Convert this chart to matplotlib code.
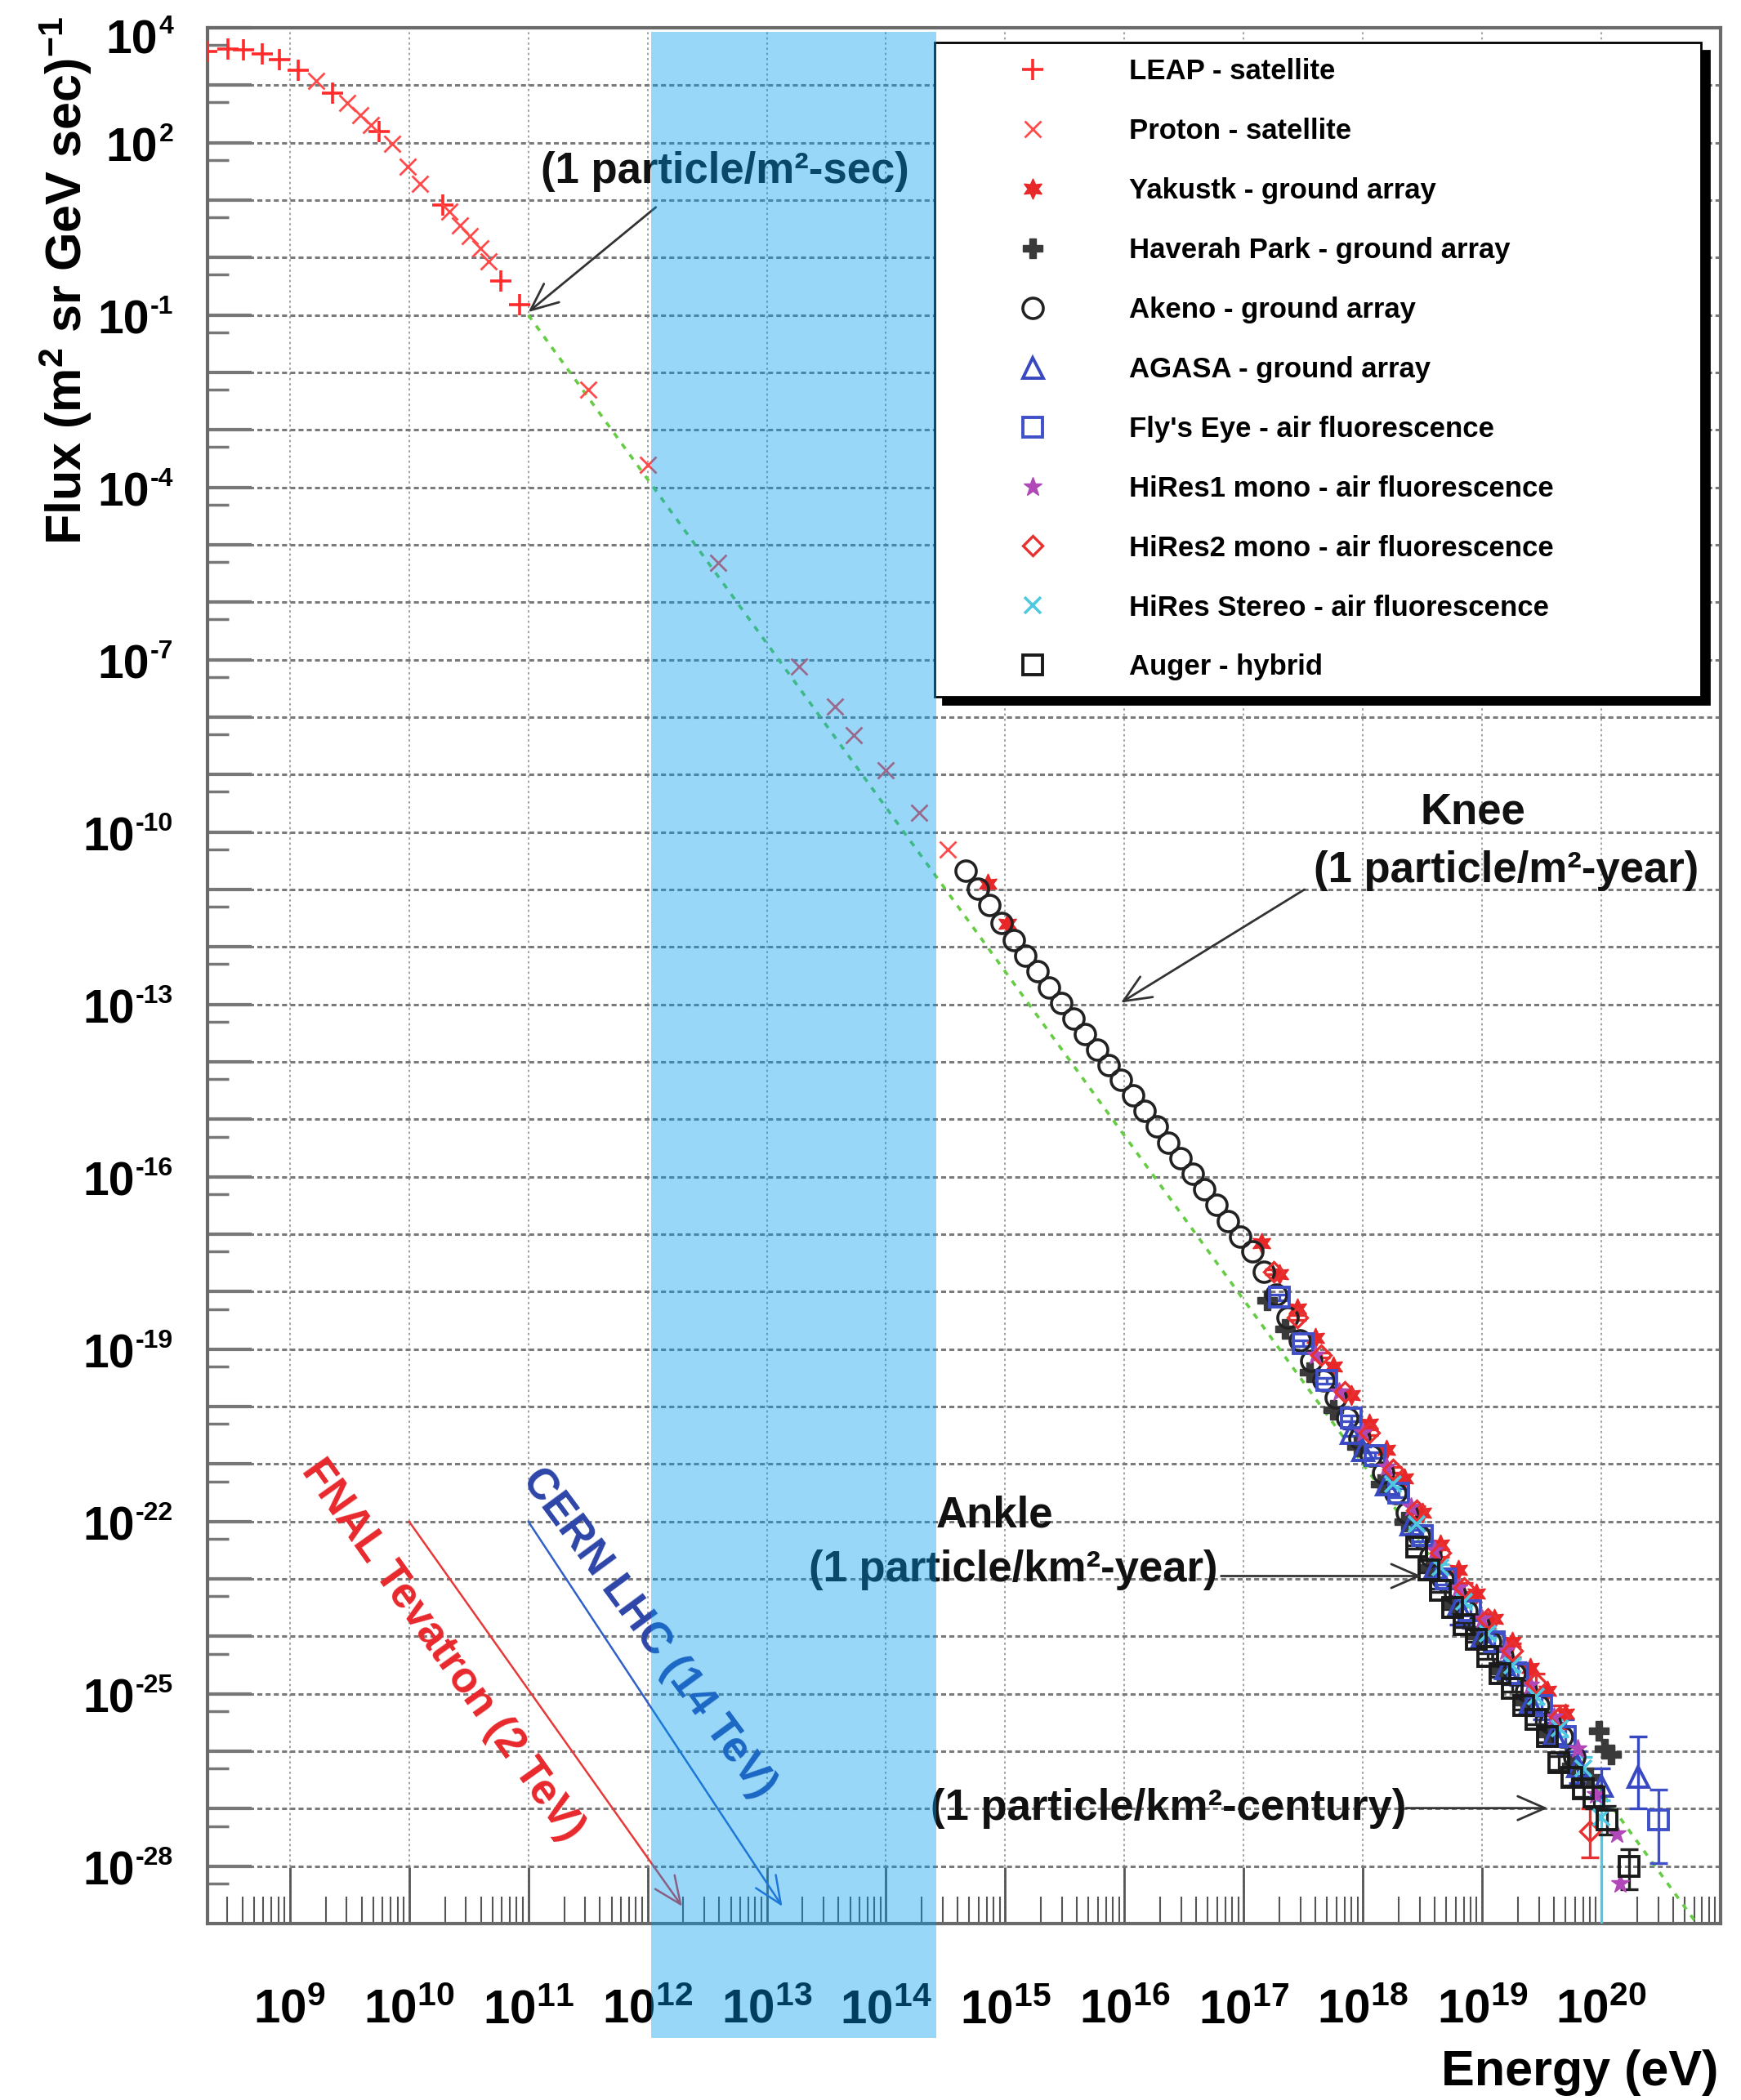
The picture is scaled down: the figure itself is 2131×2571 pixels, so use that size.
import matplotlib
matplotlib.use('Agg')  # headless
import matplotlib.pyplot as plt
import matplotlib.transforms as mtransforms
from matplotlib.patches import Rectangle
from matplotlib.ticker import FixedLocator, FuncFormatter, LogLocator, NullFormatter
import numpy as np

plt.rcParams['font.family'] = ['Liberation Sans', 'DejaVu Sans']
plt.rcParams['font.weight'] = 'bold'
plt.rcParams['mathtext.fontset'] = 'custom'
plt.rcParams['mathtext.rm'] = 'Liberation Sans:bold'
plt.rcParams['mathtext.it'] = 'Liberation Sans:bold'
plt.rcParams['mathtext.bf'] = 'Liberation Sans:bold'
plt.rcParams['mathtext.default'] = 'rm'

# all values are log10(E / eV) and log10(flux)
leap_logE = [8.30, 8.48, 8.61, 8.77, 8.91, 9.07, 9.36, 9.75, 10.28, 10.77, 10.93]
leap_logF = [3.59, 3.63, 3.62, 3.55, 3.45, 3.26, 2.86, 2.19, 0.91, -0.41, -0.82]

proton_logE = [9.22, 9.48, 9.59, 9.68, 9.86, 9.99, 10.09, 10.34, 10.43, 10.51, 10.60, 10.67,
               11.50, 12.00, 12.59, 13.27, 13.57, 13.73, 14.00, 14.28, 14.52]
proton_logF = [3.07, 2.69, 2.48, 2.31, 1.98, 1.58, 1.29, 0.80, 0.56, 0.37, 0.16, -0.06,
               -2.30, -3.61, -5.31, -7.12, -7.81, -8.32, -8.93, -9.66, -10.31]

yak_logE = [14.85, 15.02, 17.15, 17.3, 17.45, 17.6, 17.75, 17.9, 18.05, 18.2, 18.35, 18.5,
            18.65, 18.8, 18.95, 19.1, 19.25, 19.4, 19.55, 19.7]
yak_logF = [-10.9, -11.6, -17.15, -17.7, -18.3, -18.8, -19.3, -19.8, -20.3, -20.75, -21.25, -21.85,
            -22.4, -22.85, -23.25, -23.7, -24.1, -24.55, -24.95, -25.35]

hp_logE = [17.2, 17.35, 17.55, 17.75, 17.95, 18.15, 18.35, 18.55, 18.75, 18.95, 19.15, 19.35, 19.55,
           19.75, 19.9, 19.98, 20.03, 20.08]
hp_logF = [-18.15, -18.65, -19.4, -20.05, -20.7, -21.35, -22.0, -22.8, -23.45, -24.0, -24.6, -25.15, -25.7,
           -26.25, -26.45, -25.65, -25.95, -26.05]

akeno_logE = [14.67, 14.77, 14.87, 14.97, 15.07, 15.17, 15.27, 15.37, 15.47, 15.57, 15.67, 15.77,
              15.87, 15.97, 16.07, 16.17, 16.27, 16.37, 16.47, 16.57, 16.67, 16.77, 16.87, 16.97,
              17.07, 17.17, 17.27, 17.37, 17.47, 17.57, 17.67, 17.77, 17.87, 17.97, 18.07, 18.17,
              18.27, 18.37, 18.47, 18.57, 18.67, 18.77, 18.87, 18.97, 19.07, 19.17, 19.27, 19.37,
              19.47, 19.57, 19.67, 19.77]
akeno_logF = [-10.67, -10.98, -11.27, -11.58, -11.88, -12.15, -12.42, -12.70, -12.97, -13.24, -13.51, -13.78,
              -14.05, -14.32, -14.59, -14.86, -15.13, -15.41, -15.68, -15.95, -16.22, -16.49, -16.77, -17.04,
              -17.3, -17.65, -18.05, -18.45, -18.85, -19.2, -19.55, -19.85, -20.2, -20.55, -20.85, -21.15,
              -21.5, -21.85, -22.25, -22.6, -23.0, -23.25, -23.55, -23.8, -24.1, -24.35, -24.65, -24.95,
              -25.2, -25.5, -25.75, -26.1]

agasa_logE = [17.9, 18.0, 18.2, 18.4, 18.6, 18.8, 19.0, 19.2, 19.4, 19.6, 19.8, 20.0, 20.31]
agasa_logF = [-20.45, -20.75, -21.35, -22.05, -22.8, -23.45, -24.0, -24.55, -25.15, -25.7, -26.25, -26.6, -26.44]
agasa_up = [0.06, 0.05, 0.05, 0.05, 0.08, 0.35, 0.1, 0.12, 0.15, 0.2, 0.25, 0.3, 0.7]
agasa_dn = [0.06, 0.05, 0.05, 0.05, 0.08, 0.35, 0.1, 0.12, 0.15, 0.2, 0.3, 0.4, 0.56]

flyseye_logE = [17.3, 17.5, 17.7, 17.9, 18.1, 18.3, 18.5, 18.7, 18.9, 19.1, 19.3, 19.5, 19.7, 20.48]
flyseye_logF = [-18.1, -18.9, -19.55, -20.2, -20.85, -21.5, -22.25, -23.0, -23.55, -24.1, -24.65, -25.2, -25.75, -27.19]
flyseye_up = [0.05, 0.05, 0.05, 0.05, 0.05, 0.08, 0.1, 0.1, 0.3, 0.15, 0.2, 0.25, 0.3, 0.52]
flyseye_dn = [0.05, 0.05, 0.05, 0.05, 0.05, 0.08, 0.1, 0.1, 0.3, 0.15, 0.2, 0.25, 0.3, 0.76]

hires1_logE = [17.6, 17.8, 18.0, 18.2, 18.4, 18.6, 18.8, 19.0, 19.2, 19.4, 19.6, 19.8, 19.95, 20.13, 20.16]
hires1_logF = [-19.1, -19.75, -20.45, -21.05, -21.75, -22.5, -23.15, -23.7, -24.25, -24.85, -25.4, -25.95, -26.75, -27.43, -28.3]

hires2_logE = [17.25, 17.45, 17.65, 17.85, 18.05, 18.25, 18.45, 18.65, 18.85, 19.05, 19.25, 19.45, 19.65, 19.9]
hires2_logF = [-17.65, -18.45, -19.1, -19.75, -20.45, -21.1, -21.8, -22.55, -23.15, -23.7, -24.25, -24.8, -25.4, -27.4]
hires2_up = [0.04, 0.04, 0.04, 0.05, 0.05, 0.05, 0.06, 0.06, 0.08, 0.1, 0.12, 0.15, 0.2, 0.4]
hires2_dn = [0.04, 0.04, 0.04, 0.05, 0.05, 0.05, 0.06, 0.06, 0.08, 0.1, 0.12, 0.15, 0.2, 0.45]

stereo_logE = [18.25, 18.45, 18.65, 18.85, 19.05, 19.25, 19.45, 19.65, 19.85, 20.0]
stereo_logF = [-21.35, -22.05, -22.8, -23.4, -23.95, -24.5, -25.05, -25.6, -26.3, -27.15]
stereo_up = [0.05, 0.05, 0.05, 0.06, 0.08, 0.1, 0.12, 0.15, 0.2, 0.3]
stereo_dn = [0.05, 0.05, 0.05, 0.06, 0.08, 0.1, 0.12, 0.15, 0.2, 3.0]

auger_logE = [18.45, 18.55, 18.65, 18.75, 18.85, 18.95, 19.05, 19.15, 19.25, 19.35, 19.45, 19.55,
              19.64, 19.75, 19.85, 19.94, 20.05, 20.23]
auger_logF = [-22.45, -22.85, -23.2, -23.5, -23.8, -24.05, -24.35, -24.65, -24.9, -25.2, -25.45, -25.75,
              -26.2, -26.45, -26.65, -26.8, -27.2, -28.0]
auger_up = [0.03, 0.03, 0.03, 0.03, 0.04, 0.04, 0.05, 0.05, 0.06, 0.07, 0.08, 0.1,
            0.12, 0.15, 0.15, 0.2, 0.25, 0.3]
auger_dn = [0.03, 0.03, 0.03, 0.03, 0.04, 0.04, 0.05, 0.05, 0.06, 0.07, 0.08, 0.1,
            0.12, 0.15, 0.15, 0.2, 0.25, 0.4]

# E^-2.7-ish guide line
guide_logE = [11.0, 20.8]
guide_logF = [-1.0, -29.0]

band_E = [1.07e12, 2.63e14]  # shaded collider region

ytick_label_exps = [4, 2, -1, -4, -7, -10, -13, -16, -19, -22, -25, -28]
xtick_label_exps = [9, 10, 11, 12, 13, 14, 15, 16, 17, 18, 19, 20]


def P(a):
    return 10.0 ** np.asarray(a, dtype=float)


fig = plt.figure(figsize=(21.31, 25.71), dpi=100)
ax = fig.add_axes([0.1192, 0.0840, 0.8691, 0.9028])
ax.set_xscale('log')
ax.set_yscale('log')
ax.set_xlim(10 ** 8.31, 1e21)
ax.set_ylim(1e-29, 1e4)
ax.set_axisbelow(True)

for s in ax.spines.values():
    s.set_color('#6a6a6a')
    s.set_linewidth(3)

ax.yaxis.set_major_locator(FixedLocator(P(np.arange(-28, 5))))
ax.yaxis.set_minor_locator(FixedLocator(5 * P(np.arange(-29, 4))))
ax.yaxis.set_major_formatter(NullFormatter())
ax.yaxis.set_minor_formatter(NullFormatter())
ax.xaxis.set_major_locator(FixedLocator(P(np.arange(9, 22))))
ax.xaxis.set_minor_locator(LogLocator(base=10, subs=range(2, 10), numticks=200))
ax.xaxis.set_minor_formatter(NullFormatter())
ax.xaxis.set_major_formatter(FuncFormatter(
    lambda v, pos: r'$10^{%d}$' % round(np.log10(v)) if round(np.log10(v)) in xtick_label_exps else ''))

ax.tick_params(axis='y', which='major', direction='in', length=39, width=3, color='#777777', right=False)
ax.tick_params(axis='y', which='minor', direction='in', length=19, width=2.5, color='#777777', right=False)
ax.tick_params(axis='x', which='major', direction='in', length=50, width=2, color='#555555',
               labelsize=42, pad=57, top=False)
ax.tick_params(axis='x', which='minor', direction='in', length=24, width=1.5, color='#555555', top=False)

ax.grid(True, which='major', axis='y', color='#7a7a7a', lw=2.2, ls=(0, (2, 1.3)))
ax.grid(True, which='major', axis='x', color='#9a9a9a', lw=1.3, ls=(0, (1.5, 2)))

# y tick labels: "10" plus a small hyphenated exponent, right-aligned
renderer = fig.canvas.get_renderer()
for e in ytick_label_exps:
    dy = -6 if e == 4 else 0  # top label sits a little below the frame corner
    t_exp = ax.annotate(str(e), xy=(0, 10.0 ** e), xycoords=('axes fraction', 'data'),
                        xytext=(-30, 1 + dy), textcoords='offset points', ha='right', va='baseline',
                        fontsize=23, fontweight='bold')
    w_pt = t_exp.get_window_extent(renderer).width * 72 / fig.dpi
    ax.annotate('10', xy=(0, 10.0 ** e), xycoords=('axes fraction', 'data'),
                xytext=(-30 - w_pt - 1, -16.5 + dy), textcoords='offset points', ha='right', va='baseline',
                fontsize=41, fontweight='bold')

# guide line
ax.plot(P(guide_logE), P(guide_logF), color='#66cc44', lw=2.6, ls=(0, (2, 2.5)), zorder=2)

# error bars first, markers on top
err_sets = [
    (agasa_logE, agasa_logF, agasa_up, agasa_dn, '#3848c0'),
    (flyseye_logE, flyseye_logF, flyseye_up, flyseye_dn, '#4050c8'),
    (hires2_logE, hires2_logF, hires2_up, hires2_dn, '#e83030'),
    (stereo_logE, stereo_logF, stereo_up, stereo_dn, '#50c8e0'),
    (auger_logE, auger_logF, auger_up, auger_dn, '#222222'),
]
for lx, ly, up, dn, c in err_sets:
    y = P(ly)
    ax.errorbar(P(lx), y, yerr=[y - P(np.array(ly) - np.array(dn)), P(np.array(ly) + np.array(up)) - y],
                fmt='none', ecolor=c, elinewidth=2.4, capsize=8, capthick=2.4, zorder=3)

handles = []
handles.append(ax.plot(P(leap_logE), P(leap_logF), ls='none', marker='+', ms=19, mew=2.6,
                       color='#ff2a2a', label='LEAP - satellite', zorder=4)[0])
handles.append(ax.plot(P(proton_logE), P(proton_logF), ls='none', marker='x', ms=14, mew=2.0,
                       color='#ff4a4a', label='Proton - satellite', zorder=4)[0])
handles.append(ax.plot(P(yak_logE), P(yak_logF), ls='none', marker=(6, 1, 0), ms=18,
                       color='#e82828', label='Yakustk - ground array', zorder=4)[0])
handles.append(ax.plot(P(hp_logE), P(hp_logF), ls='none', marker='P', ms=17,
                       color='#3a3a3a', label='Haverah Park - ground array', zorder=4)[0])
handles.append(ax.plot(P(akeno_logE), P(akeno_logF), ls='none', marker='o', ms=18, mfc='none',
                       mec='#222222', mew=2.6, label='Akeno - ground array', zorder=4)[0])
handles.append(ax.plot(P(agasa_logE), P(agasa_logF), ls='none', marker='^', ms=18, mfc='none',
                       mec='#3848c0', mew=2.8, label='AGASA - ground array', zorder=4)[0])
handles.append(ax.plot(P(flyseye_logE), P(flyseye_logF), ls='none', marker='s', ms=17, mfc='none',
                       mec='#4050c8', mew=2.8, label="Fly's Eye - air fluorescence", zorder=4)[0])
handles.append(ax.plot(P(hires1_logE), P(hires1_logF), ls='none', marker='*', ms=17,
                       color='#b048b8', label='HiRes1 mono - air fluorescence', zorder=4)[0])
handles.append(ax.plot(P(hires2_logE), P(hires2_logF), ls='none', marker='D', ms=12, mfc='none',
                       mec='#e83030', mew=2.4, label='HiRes2 mono - air fluorescence', zorder=4)[0])
handles.append(ax.plot(P(stereo_logE), P(stereo_logF), ls='none', marker='x', ms=15, mew=2.6,
                       color='#50c8e0', label='HiRes Stereo - air fluorescence', zorder=4)[0])
handles.append(ax.plot(P(auger_logE), P(auger_logF), ls='none', marker='s', ms=17, mfc='none',
                       mec='#1a1a1a', mew=2.8, label='Auger - hybrid', zorder=4)[0])

leg = ax.legend(handles=handles, loc='upper left', bbox_to_anchor=(0.4806, 0.0, 0.5064, 0.9922),
                mode='expand', borderaxespad=0, fontsize=25, frameon=True, fancybox=False,
                edgecolor='black', framealpha=1,
                shadow={'facecolor': 'black', 'edgecolor': 'black', 'alpha': 1, 'ox': 7, 'oy': -7},
                labelspacing=1.15, handlelength=5.8, handletextpad=0.5, borderpad=0.55, numpoints=1)
leg.get_frame().set_linewidth(2)
leg.set_zorder(6)

# annotations
arrow_kw = dict(arrowstyle='->,head_length=0.8,head_width=0.35', color='#333333', lw=2,
                mutation_scale=30, shrinkA=0, shrinkB=0)
ax.annotate('', xy=(P(11.0), P(-0.95)), xytext=(P(12.07), P(0.875)), arrowprops=arrow_kw, zorder=5)
ax.annotate('', xy=(P(15.97), P(-12.97)), xytext=(P(17.51), P(-11.0)), arrowprops=arrow_kw, zorder=5)
ax.annotate('', xy=(P(18.49), P(-22.95)), xytext=(P(16.81), P(-22.95)), arrowprops=arrow_kw, zorder=5)
ax.annotate('', xy=(P(19.55), P(-26.99)), xytext=(P(18.36), P(-26.99)), arrowprops=arrow_kw, zorder=5)

txt_kw = dict(ha='center', va='center', fontsize=38, fontweight='bold', color='#111111', zorder=5)
ax.text(P(12.65), P(1.5), '(1 particle/m²-sec)', **txt_kw)
ax.text(P(18.92), P(-9.65), 'Knee', **txt_kw)
ax.text(P(19.2), P(-10.67), '(1 particle/m²-year)', **txt_kw)
ax.text(P(14.91), P(-21.9), 'Ankle', **txt_kw)
ax.text(P(15.07), P(-22.85), '(1 particle/km²-year)', **txt_kw)
ax.text(P(16.37), P(-26.99), '(1 particle/km²-century)', **txt_kw)

# collider energies
ax.annotate('', xy=(P(12.29), P(-28.7)), xytext=(P(10.0), P(-22.0)),
            arrowprops=dict(arrowstyle='->,head_length=0.8,head_width=0.35', color='#e83838', lw=1.8,
                            mutation_scale=30, shrinkA=0, shrinkB=0), zorder=5)
ax.annotate('', xy=(P(13.13), P(-28.7)), xytext=(P(11.0), P(-22.0)),
            arrowprops=dict(arrowstyle='->,head_length=0.8,head_width=0.35', color='#3060c8', lw=1.8,
                            mutation_scale=30, shrinkA=0, shrinkB=0), zorder=5)
ax.text(P(10.28), P(-24.24), 'FNAL Tevatron (2 TeV)', rotation=-54.6, rotation_mode='anchor',
        ha='center', va='center', fontsize=38, fontweight='bold', color='#e8282c', zorder=5)
ax.text(P(12.01), P(-23.94), 'CERN LHC (14 TeV)', rotation=-53.6, rotation_mode='anchor',
        ha='center', va='center', fontsize=38, fontweight='bold', color='#2d45a8', zorder=5)

fig.text(80 / 2131, 1 - 344 / 2571, r'Flux (m$^{2}$ sr GeV sec)$^{-1}$', rotation=90,
         ha='center', va='center', fontsize=44, fontweight='bold')
fig.text(2103 / 2131, 1 - 2538 / 2571, 'Energy (eV)', ha='right', va='center',
         fontsize=44, fontweight='bold')

# translucent blue band laid over everything, running past the axis labels
trans = mtransforms.blended_transform_factory(ax.transData, fig.transFigure)
band = Rectangle((band_E[0], 0.0296), band_E[1] - band_E[0], 0.9848 - 0.0296, transform=trans,
                 facecolor='#009bf0', alpha=0.4, edgecolor='none', zorder=10)
fig.add_artist(band)

fig.savefig('out.png', dpi=100, facecolor='white')
